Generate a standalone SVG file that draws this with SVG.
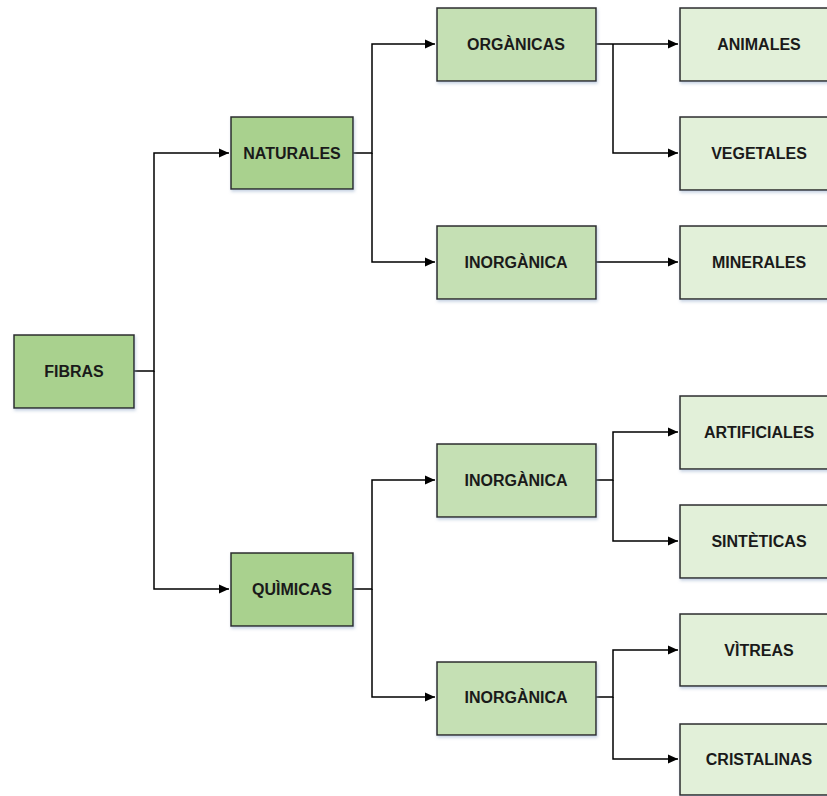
<svg xmlns="http://www.w3.org/2000/svg" width="827" height="796" viewBox="0 0 827 796">
<defs>
<marker id="arr" viewBox="0 0 10 10" refX="10" refY="5" markerWidth="11" markerHeight="10" markerUnits="userSpaceOnUse" orient="auto">
<path d="M0,0.5 L10,5 L0,9.5 Z" fill="#000"/>
</marker>
<filter id="sh" x="-10%" y="-10%" width="130%" height="140%">
<feDropShadow dx="1" dy="2" stdDeviation="1.5" flood-color="#8fa7c8" flood-opacity="0.5"/>
</filter>
</defs>
<style>
rect{stroke:#2b2b2b;stroke-width:1.5;filter:url(#sh)}
.l1 rect{fill:#a9d18e}
.l2 rect{fill:#c5e0b4}
.l3 rect{fill:#e2f0d9}
text{font-family:"Liberation Sans",Arial,sans-serif;font-weight:bold;font-size:16px;fill:#1a1a1a;text-anchor:middle;dominant-baseline:central}
.c path{fill:none;stroke:#000;stroke-width:1.5}
</style>
<g class="c" id="connectors">
<path d="M134,371 H154 V153 H229" marker-end="url(#arr)"/>
<path d="M154,371 V589 H229" marker-end="url(#arr)"/>
<path d="M353,153 H372 V44 H435" marker-end="url(#arr)"/>
<path d="M372,153 V262 H435" marker-end="url(#arr)"/>
<path d="M596,44 H678" marker-end="url(#arr)"/>
<path d="M613,44 V153 H678" marker-end="url(#arr)"/>
<path d="M596,262 H678" marker-end="url(#arr)"/>
<path d="M353,589 H372 V480 H435" marker-end="url(#arr)"/>
<path d="M372,589 V697 H435" marker-end="url(#arr)"/>
<path d="M596,480 H613 V432 H678" marker-end="url(#arr)"/>
<path d="M613,480 V541 H678" marker-end="url(#arr)"/>
<path d="M596,697 H613 V650 H678" marker-end="url(#arr)"/>
<path d="M613,697 V759 H678" marker-end="url(#arr)"/>
</g>
<g id="fibras" class="l1"><rect x="14" y="335" width="120" height="73"/><text x="74" y="371">FIBRAS</text></g>
<g id="naturales" class="l1"><rect x="231" y="117" width="122" height="72"/><text x="292" y="153">NATURALES</text></g>
<g id="quimicas" class="l1"><rect x="231" y="553" width="122" height="73"/><text x="292" y="589">QUÌMICAS</text></g>
<g id="organicas" class="l2"><rect x="437" y="8" width="159" height="73"/><text x="516" y="44">ORGÀNICAS</text></g>
<g id="inorganica1" class="l2"><rect x="437" y="226" width="159" height="73"/><text x="516" y="262">INORGÀNICA</text></g>
<g id="inorganica2" class="l2"><rect x="437" y="444" width="159" height="73"/><text x="516" y="480">INORGÀNICA</text></g>
<g id="inorganica3" class="l2"><rect x="437" y="662" width="159" height="73"/><text x="516" y="697">INORGÀNICA</text></g>
<g id="animales" class="l3"><rect x="680" y="8" width="160" height="73"/><text x="759" y="44">ANIMALES</text></g>
<g id="vegetales" class="l3"><rect x="680" y="117" width="160" height="73"/><text x="759" y="153">VEGETALES</text></g>
<g id="minerales" class="l3"><rect x="680" y="226" width="160" height="73"/><text x="759" y="262">MINERALES</text></g>
<g id="artificiales" class="l3"><rect x="680" y="396" width="160" height="73"/><text x="759" y="432">ARTIFICIALES</text></g>
<g id="sinteticas" class="l3"><rect x="680" y="505" width="160" height="73"/><text x="759" y="541">SINTÈTICAS</text></g>
<g id="vitreas" class="l3"><rect x="680" y="614" width="160" height="72"/><text x="759" y="650">VÌTREAS</text></g>
<g id="cristalinas" class="l3"><rect x="680" y="724" width="160" height="71"/><text x="759" y="759">CRISTALINAS</text></g>
</svg>
